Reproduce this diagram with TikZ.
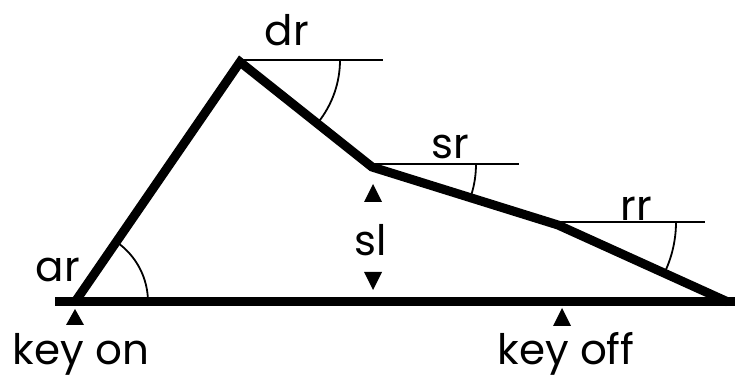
\documentclass[tikz,border=0pt]{standalone}
\usepackage{fontspec}
\newfontfamily\labelfont{Poppins}
\usepackage{tikz}
\usetikzlibrary{calc}

\begin{document}
\begin{tikzpicture}[
        x=1pt,y=1pt,
        env/.style={line width=9pt,line join=miter},
        level/.style={line width=1.8pt},
        ang/.style={line width=1.8pt},
        tag/.style={font=\labelfont\fontsize{42}{42}\selectfont,inner sep=0pt},
        tipup/.style={fill=black}
      ]
      \useasboundingbox (0,0) rectangle (736,380);
      % envelope corners
      \coordinate (on)   at (75,78);
      \coordinate (peak) at (240,318);
      \coordinate (sus)  at (372,213);
      \coordinate (rel)  at (558,155);
      \coordinate (off)  at (728,78);
      \coordinate (keyoff) at (562,78);

      \draw[env] (55,78) -- (735,78);
      \draw[env] (on) -- (peak) -- (sus) -- (rel) -- (off);

      % reference levels
      \draw[level] ($(peak)+(0,2)$) -- ++(143,0);
      \draw[level] ($(sus)+(0,3)$) -- ++(147,0);
      \draw[level] ($(rel)+(0,3)$) -- ++(147,0);

      % rate angles
      \draw[ang] (on) ++(0:73) arc[start angle=0,end angle=55.5,radius=73];
      \draw[ang] ($(peak)+(0,2)$) ++(0:100) arc[start angle=0,end angle=-38.5,radius=100];
      \draw[ang] ($(sus)+(0,3)$) ++(0:104) arc[start angle=0,end angle=-17,radius=104];
      \draw[ang] ($(rel)+(0,3)$) ++(0:118) arc[start angle=0,end angle=-24.5,radius=118];

      % markers
      \fill[tipup] ($(on)+(0,-7)$) -- ++(-9,-16) -- ++(18,0) -- cycle;
      \fill[tipup] ($(keyoff)+(0,-6)$) -- ++(-9,-18) -- ++(18,0) -- cycle;
      \fill[tipup] (373,196) -- ++(-9,-18) -- ++(18,0) -- cycle;
      \fill[tipup] (373,90) -- ++(-9,18) -- ++(18,0) -- cycle;

      \node[tag] (ar)  at (58,110)  {ar};
      \node[tag] (dr)  at (287,350) {dr};
      \node[tag] (sr)  at (450,233) {sr};
      \node[tag] (rr)  at (636,171) {rr};
      \node[tag] (sl)  at (371,140) {sl};
      \node[tag] (kon) at (81,26)   {key on};
      \node[tag] (koff) at (566,26) {key off};
    \end{tikzpicture}
\end{document}
